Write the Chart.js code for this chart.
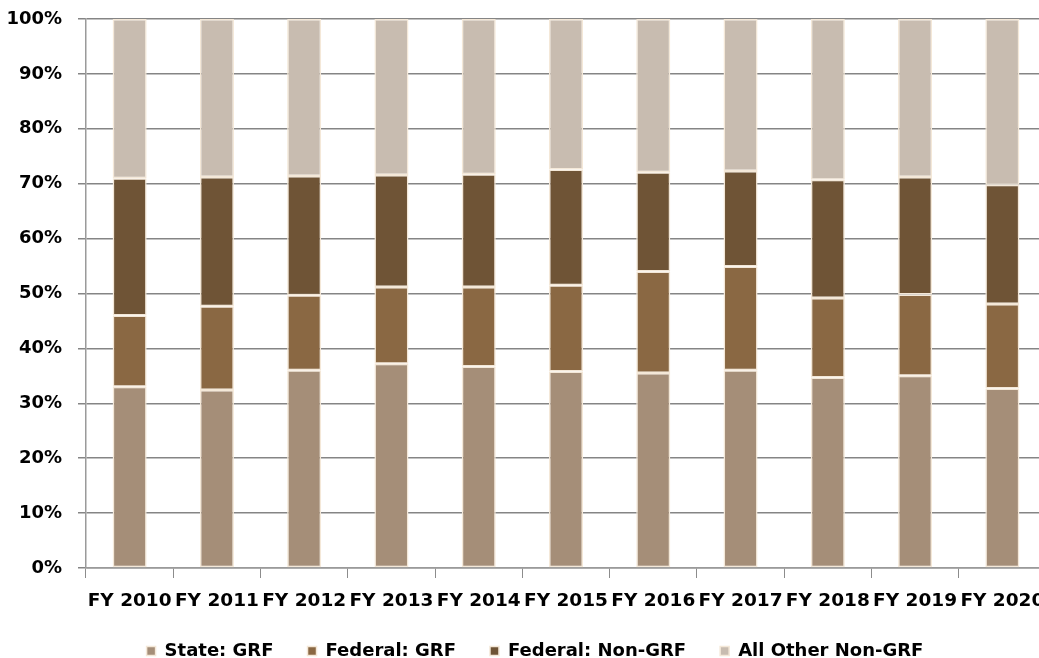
<!DOCTYPE html>
<html>
<head>
<meta charset="utf-8">
<script src="https://cdn.jsdelivr.net/npm/chart.js@4.4.0/dist/chart.umd.min.js"></script>
<style>
  html, body { margin: 0; padding: 0; background: #fff; overflow: hidden; }
  #wrap { width: 1070px; height: 670px; }
</style>
</head>
<body>
<div id="wrap"><canvas id="chart"></canvas></div>
<script>
const years = ['FY 2010', 'FY 2011', 'FY 2012', 'FY 2013', 'FY 2014', 'FY 2015',
               'FY 2016', 'FY 2017', 'FY 2018', 'FY 2019', 'FY 2020'];

// shares of total, in percent
const stateGrf      = [33.0, 32.4, 36.0, 37.2, 36.7, 35.8, 35.5, 36.0, 34.7, 35.0, 32.7];
const federalGrf    = [13.0, 15.3, 13.7, 14.0, 14.5, 15.7, 18.5, 18.9, 14.5, 14.8, 15.4];
const federalNonGrf = [25.0, 23.5, 21.7, 20.4, 20.5, 21.1, 18.1, 17.4, 21.5, 21.4, 21.7];
const allOtherNonGrf = [29.0, 28.8, 28.6, 28.4, 28.3, 27.4, 27.9, 27.7, 29.3, 28.8, 30.2];

const seriesNames = ['State: GRF', 'Federal: GRF', 'Federal: Non-GRF', 'All Other Non-GRF'];
const seriesColors = ['#a58e78', '#8a6843', '#6f5436', '#c8bcb0'];

const fontFamily = '"DejaVu Sans", sans-serif';

function bar(label, data, color) {
    return {
        label: label,
        data: data,
        backgroundColor: color,
        borderColor: '#f4e8d8',
        borderWidth: 1.5,
        borderSkipped: false,
        barPercentage: 0.39,
        categoryPercentage: 1.0
    };
}

new Chart(document.getElementById('chart'), {
    type: 'bar',
    data: {
        labels: years,
        datasets: [
            bar(seriesNames[0], stateGrf, seriesColors[0]),
            bar(seriesNames[1], federalGrf, seriesColors[1]),
            bar(seriesNames[2], federalNonGrf, seriesColors[2]),
            bar(seriesNames[3], allOtherNonGrf, seriesColors[3])
        ]
    },
    options: {
        responsive: true,
        maintainAspectRatio: false,
        animation: false,
        layout: { padding: 0 },
        scales: {
            x: {
                stacked: true,
                grid: {
                    offset: true,
                    drawOnChartArea: false,
                    tickLength: 10,
                    color: '#8c8c8c'
                },
                border: { color: '#9a9a9a', width: 1.5 },
                ticks: {
                    color: '#000',
                    padding: 12,
                    maxRotation: 0,
                    autoSkip: false,
                    font: { family: fontFamily, size: 18.5, weight: 'bold' }
                },
                afterFit: scale => { scale.height = 40; }
            },
            y: {
                stacked: true,
                min: 0,
                max: 100,
                grid: {
                    tickLength: 8,
                    color: '#858585',
                    lineWidth: 1.5
                },
                border: { color: '#9a9a9a', width: 1.5 },
                ticks: {
                    stepSize: 10,
                    color: '#000',
                    padding: 16,
                    font: { family: fontFamily, size: 18, weight: 'bold' },
                    callback: value => value + '%'
                },
                afterFit: scale => {
                    scale.width = 86;
                    scale.paddingTop = 19;
                }
            },
            // empty spacer on the right so the plot runs past the window edge
            spacer: {
                position: 'right',
                grid: { display: false, drawTicks: false },
                border: { display: false },
                ticks: { display: false },
                afterFit: scale => { scale.width = 24; }
            }
        },
        plugins: {
            legend: {
                position: 'bottom',
                labels: {
                    boxWidth: 9,
                    boxHeight: 9,
                    padding: 34,
                    color: '#000',
                    font: { family: fontFamily, size: 18, weight: 'bold' }
                }
            },
            tooltip: { enabled: false }
        }
    }
});
</script>
</body>
</html>
